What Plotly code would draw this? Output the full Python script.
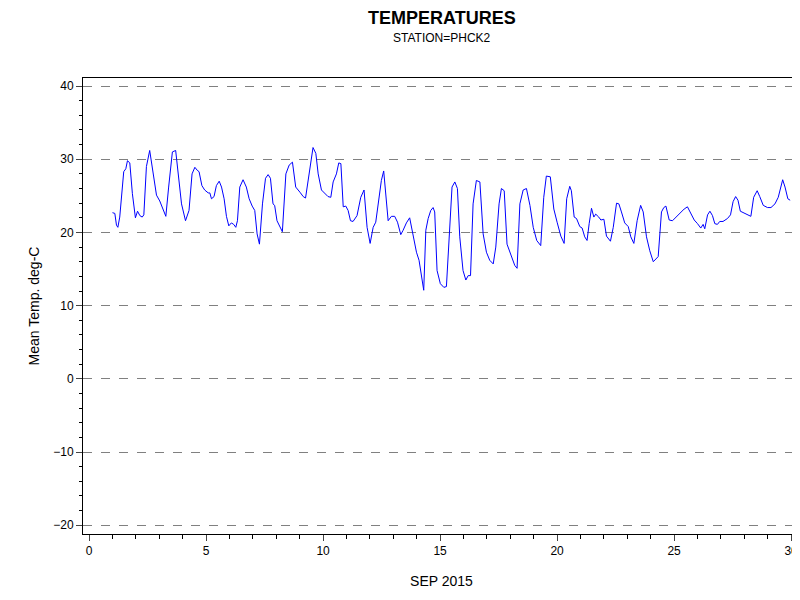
import plotly.graph_objects as go

day = [1.0,1.10,1.17,1.23,1.31,1.38,1.48,1.57,1.64,1.74,1.85,1.98,2.07,2.17,2.27,2.34,2.45,2.59,2.73,2.88,3.02,3.16,3.28,3.40,3.56,3.70,3.80,3.95,4.12,4.27,4.40,4.52,4.62,4.70,4.82,4.94,5.09,5.16,5.23,5.34,5.44,5.56,5.66,5.77,5.87,5.97,6.08,6.18,6.27,6.34,6.44,6.58,6.72,6.84,6.97,7.08,7.18,7.28,7.41,7.54,7.65,7.75,7.86,7.93,8.03,8.15,8.26,8.41,8.55,8.69,8.83,9.01,9.15,9.25,9.36,9.46,9.57,9.69,9.79,9.93,10.07,10.21,10.33,10.43,10.57,10.67,10.76,10.86,10.97,11.07,11.17,11.28,
       11.45,11.61,11.75,11.88,12.01,12.14,12.25,12.38,12.49,12.59,12.71,12.78,12.92,13.06,13.18,13.32,13.42,13.56,13.70,13.85,13.99,14.10,14.20,14.30,14.39,14.49,14.60,14.70,14.77,14.87,15.01,15.16,15.27,15.38,15.51,15.63,15.74,15.84,15.98,16.10,16.20,16.30,16.41,16.55,16.70,16.84,16.98,17.12,17.27,17.38,17.52,17.62,17.74,17.86,18.05,18.19,18.29,18.41,18.55,18.69,18.84,18.98,19.13,19.30,19.43,19.54,19.71,19.86,20.00,20.16,20.30,20.41,20.54,
       20.61,20.73,20.83,20.97,21.07,21.18,21.28,21.37,21.47,21.57,21.65,21.78,21.87,22.00,22.11,22.28,22.40,22.54,22.64,22.75,22.89,23.04,23.15,23.28,23.42,23.57,23.68,23.82,23.96,24.11,24.22,24.32,24.46,24.56,24.65,24.79,24.93,25.08,25.24,25.43,25.57,25.71,25.86,26.00,26.14,26.24,26.31,26.43,26.53,26.64,26.74,26.85,26.95,27.09,27.28,27.41,27.52,27.63,27.73,27.83,28.02,28.16,28.28,28.40,28.55,28.66,28.81,28.99,29.14,29.31,29.45,29.64,29.74,29.86,29.96]
temp = [22.7,22.6,21.0,20.7,22.1,24.8,28.3,28.7,29.8,29.5,25.3,22.0,22.9,22.3,22.1,22.4,29.0,31.2,28.5,25.1,24.3,23.2,22.2,26.2,31.0,31.2,28.5,23.9,21.6,23.0,28.0,28.9,28.5,28.3,26.4,25.8,25.4,25.4,24.6,24.9,26.4,27.0,26.2,24.6,22.2,20.9,21.3,21.1,20.7,21.6,26.2,27.2,26.2,24.6,23.6,23.0,19.8,18.4,23.9,27.4,27.9,27.4,23.9,23.7,21.6,20.7,20.1,28.0,29.2,29.6,26.2,25.5,24.9,24.7,27.1,29.9,31.6,30.8,28.0,25.8,25.3,24.9,24.8,26.9,28.0,29.5,29.4,23.5,23.6,23.0,21.6,21.5,
        22.3,24.8,25.8,20.7,18.5,20.7,21.4,24.4,27.1,28.4,24.4,21.6,22.2,22.2,21.4,19.7,20.3,21.3,22.0,19.4,17.3,16.2,13.9,12.1,20.3,21.9,23.0,23.4,22.8,14.8,13.0,12.5,12.6,19.4,26.2,26.9,26.0,19.4,14.8,13.5,14.1,14.1,23.9,27.1,26.9,19.8,17.3,16.2,15.7,18.0,23.9,26.0,25.7,18.4,16.6,15.5,15.1,23.9,25.8,26.0,23.7,20.7,18.9,18.2,24.8,27.7,27.6,23.2,21.4,19.5,18.5,24.6,26.3,
        25.7,22.1,21.9,20.8,20.6,19.4,18.9,21.2,23.3,22.1,22.5,22.1,21.7,21.8,19.5,18.8,20.7,24.0,23.9,22.8,21.3,20.8,19.4,18.5,21.6,23.7,22.8,19.4,17.5,16.0,16.3,16.7,22.8,23.4,23.6,21.7,21.6,22.1,22.6,23.2,23.5,22.6,21.7,21.2,20.6,21.1,20.5,22.4,22.9,22.3,21.2,21.1,21.5,21.5,21.9,22.4,24.2,24.9,24.4,22.9,22.6,22.3,22.2,24.8,25.7,24.9,23.7,23.4,23.4,23.9,24.8,27.2,26.2,24.6,24.4]

fig = go.Figure(go.Scatter(x=day, y=temp, mode="lines", line=dict(color="#0000ff", width=1)))

fig.update_layout(
    width=800, height=600, margin=dict(l=75, r=8, t=70, b=74, autoexpand=False),
    paper_bgcolor="white", plot_bgcolor="white", showlegend=False,
    font=dict(family="Liberation Sans, Arial", size=12, color="black"),
    annotations=[
        dict(text="<b>TEMPERATURES</b>", xref="paper", yref="paper", x=0.5, y=1, yshift=60,
             xanchor="center", yanchor="middle", showarrow=False, font=dict(size=18)),
        dict(text="STATION=PHCK2", xref="paper", yref="paper", x=0.5, y=1, yshift=40,
             xanchor="center", yanchor="middle", showarrow=False, font=dict(size=12)),
    ],
)
fig.update_xaxes(range=[-0.26, 30.38], tickvals=[0,5,10,15,20,25,30], ticks="outside", ticklen=6,
                 minor=dict(dtick=1, ticks="outside", ticklen=4, tickcolor="black"),
                 showgrid=False, zeroline=False, showline=True, linecolor="black", mirror=True,
                 automargin=False, title=dict(text="SEP 2015", standoff=18))
fig.update_yaxes(range=[-21.2, 41.1], tickvals=[-20,-10,0,10,20,30,40], ticks="outside", ticklen=6,
                 minor=dict(dtick=2, ticks="outside", ticklen=3, tickcolor="black", showgrid=False),
                 showgrid=True, gridcolor="#808080", griddash="dash", gridwidth=1,
                 zeroline=False, showline=True, linecolor="black", mirror=True,
                 automargin=False, title=dict(text="Mean Temp. deg-C", standoff=10))
fig.write_html("out.html")
